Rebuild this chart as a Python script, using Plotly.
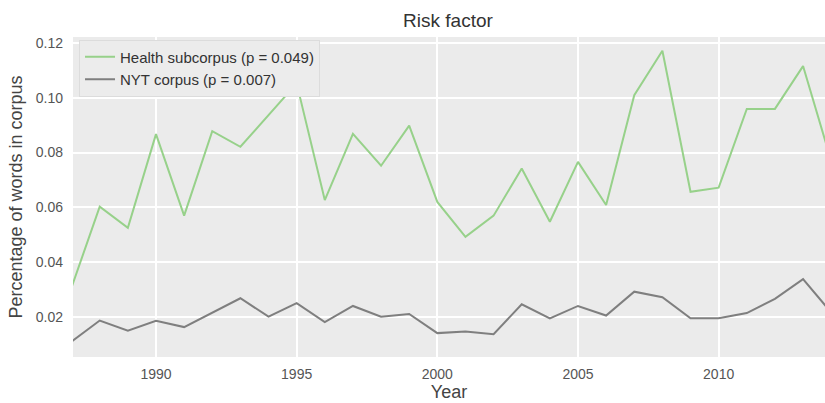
import plotly.graph_objects as go

years = list(range(1987, 2015))
health = [0.0309, 0.0603, 0.0526, 0.0867, 0.0570, 0.0878, 0.0821, 0.0935, 0.1052,
          0.0627, 0.0868, 0.0752, 0.0898, 0.0620, 0.0493, 0.0570, 0.0742, 0.0548,
          0.0766, 0.0609, 0.1009, 0.1171, 0.0657, 0.0672, 0.0959, 0.0959, 0.1115,
          0.0770]
nyt = [0.0111, 0.0188, 0.0151, 0.0187, 0.0164, 0.0217, 0.0269, 0.0202, 0.0251,
       0.0182, 0.0241, 0.0202, 0.0212, 0.0142, 0.0148, 0.0138, 0.0247, 0.0196,
       0.0241, 0.0206, 0.0293, 0.0273, 0.0196, 0.0196, 0.0215, 0.0267, 0.0339,
       0.0217]
y_ticks = [0.02, 0.04, 0.06, 0.08, 0.10, 0.12]
x_ticks = [1990, 1995, 2000, 2005, 2010]

font = "Liberation Sans, Arial, sans-serif"

fig = go.Figure()
fig.add_trace(go.Scatter(x=years, y=health, mode="lines",
                         name="Health subcorpus (p = 0.049)",
                         line=dict(color="#97d18a", width=2)))
fig.add_trace(go.Scatter(x=years, y=nyt, mode="lines",
                         name="NYT corpus (p = 0.007)",
                         line=dict(color="#7f7f7f", width=2)))

fig.update_layout(
    width=825, height=403,
    margin=dict(l=73, r=0, t=37, b=46),
    paper_bgcolor="white",
    plot_bgcolor="#ebebeb",
    font=dict(family=font, color="#444"),
    title=dict(text="Risk factor", x=0.543, xanchor="center", y=0.950, yanchor="middle",
               font=dict(size=19, color="#333")),
    showlegend=True,
    legend=dict(x=0.008, y=0.992, xanchor="left", yanchor="top",
                bgcolor="#ececec", bordercolor="#dcdcdc", borderwidth=1,
                font=dict(size=15, color="#333"), tracegroupgap=0,
                itemwidth=30),
)
fig.update_xaxes(range=[1987.05, 2013.78], tickvals=x_ticks,
                 showgrid=True, gridcolor="white", gridwidth=1.5,
                 zeroline=False, showline=False, ticks="",
                 ticklabelstandoff=7,
                 tickfont=dict(size=14, color="#555"),
                 title=dict(text="Year", font=dict(size=18, color="#444"), standoff=4))
fig.update_yaxes(range=[0.0055, 0.1221], tickvals=y_ticks, tickformat=".2f",
                 showgrid=True, gridcolor="white", gridwidth=1.5,
                 zeroline=False, showline=False, ticks="",
                 ticklabelstandoff=9,
                 tickfont=dict(size=14, color="#555"),
                 title=dict(text="Percentage of words in corpus",
                            font=dict(size=18, color="#444"), standoff=8))

fig.write_html("out.html", config={"displayModeBar": False})

with open("out.html", "r", encoding="utf-8") as f:
    html = f.read()
html = html.replace("<head>", "<head><style>html,body{margin:0;padding:0;overflow:hidden;}</style>", 1)
with open("out.html", "w", encoding="utf-8") as f:
    f.write(html)
